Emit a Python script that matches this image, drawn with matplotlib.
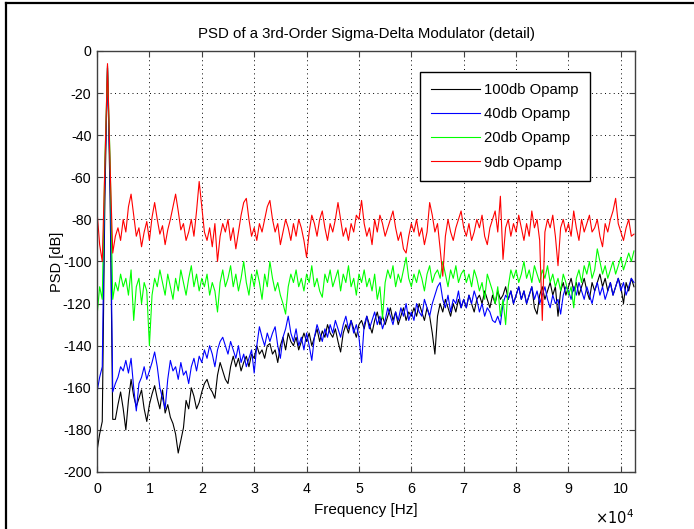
import numpy as np
import matplotlib
matplotlib.use("Agg")
import matplotlib.pyplot as plt
from matplotlib.lines import Line2D
from matplotlib.ticker import FixedLocator, FuncFormatter

# PSD estimates (dB) on a 500 Hz bin grid, one list per opamp gain
bin_hz = 500

psd_100db = [
    -190, -182, -176, -70, -7, -70, -175, -175, -168, -162,
    -170, -180, -166, -156, -164, -169, -165, -161, -170, -176,
    -168, -163, -159, -165, -170, -161, -172, -168, -174, -177,
    -182, -191, -185, -179, -166, -170, -160, -164, -170, -167,
    -162, -158, -156, -160, -162, -165, -154, -148, -152, -156,
    -158, -150, -145, -150, -146, -152, -148, -145, -150, -144,
    -146, -140, -144, -142, -146, -140, -139, -144, -142, -148,
    -140, -136, -142, -134, -138, -140, -136, -142, -138, -134,
    -138, -134, -140, -136, -132, -138, -133, -136, -130, -134,
    -136, -132, -138, -143, -134, -130, -134, -128, -132, -136,
    -130, -128, -132, -126, -130, -134, -128, -124, -130, -126,
    -130, -126, -122, -128, -124, -130, -126, -122, -128, -124,
    -126, -122, -126, -120, -124, -128, -122, -126, -134, -144,
    -126, -120, -124, -118, -122, -126, -120, -124, -118, -122,
    -118, -122, -116, -120, -124, -118, -116, -120, -114, -118,
    -122, -116, -120, -114, -118, -116, -112, -118, -114, -120,
    -116, -112, -118, -114, -120, -116, -112, -122, -125, -116,
    -112, -118, -114, -110, -116, -112, -126, -114, -110, -116,
    -112, -108, -114, -110, -116, -112, -108, -114, -118, -110,
    -114, -110, -106, -112, -108, -114, -110, -116, -112, -108,
    -112, -120, -110, -114, -108, -112,
]

psd_40db = [
    -162, -155, -150, -60, -8, -60, -162, -158, -155, -150,
    -152, -147, -153, -146, -160, -171, -158, -155, -150, -156,
    -152, -148, -143, -150, -160, -165, -170, -156, -147, -152,
    -150, -156, -148, -154, -152, -158, -150, -146, -152, -145,
    -148, -142, -146, -140, -144, -150, -142, -138, -136, -140,
    -144, -138, -142, -146, -140, -148, -144, -150, -146, -142,
    -153, -140, -131, -136, -140, -134, -138, -134, -131, -140,
    -146, -136, -132, -126, -134, -138, -132, -140, -136, -142,
    -134, -140, -147, -136, -130, -134, -138, -132, -136, -130,
    -134, -128, -132, -136, -130, -126, -132, -128, -134, -130,
    -136, -148, -130, -126, -132, -128, -124, -130, -126, -132,
    -128, -122, -126, -130, -124, -128, -122, -126, -120, -128,
    -124, -128, -120, -124, -126, -118, -122, -126, -120, -116,
    -112, -110, -118, -122, -116, -124, -118, -120, -114, -122,
    -118, -122, -116, -120, -114, -118, -124, -120, -126, -122,
    -124, -128, -129, -126, -130, -120, -116, -118, -114, -120,
    -116, -112, -118, -114, -120, -116, -112, -118, -114, -120,
    -116, -112, -118, -122, -116, -120, -118, -125, -116, -112,
    -114, -118, -112, -116, -110, -114, -118, -112, -116, -120,
    -114, -110, -116, -112, -118, -114, -110, -116, -112, -108,
    -114, -110, -116, -112, -108, -110,
]

psd_20db = [
    -126, -112, -118, -52, -8, -52, -118, -110, -114, -106,
    -112, -108, -116, -104, -128, -112, -108, -120, -110, -114,
    -140, -116, -108, -112, -104, -110, -116, -106, -112, -118,
    -108, -114, -104, -110, -116, -108, -102, -112, -106, -114,
    -108, -112, -106, -116, -110, -114, -124, -110, -104, -112,
    -108, -102, -112, -106, -114, -108, -100, -110, -116, -106,
    -112, -104, -110, -118, -106, -112, -100, -108, -114, -110,
    -116, -120, -125, -112, -106, -110, -104, -112, -108, -114,
    -106, -110, -102, -112, -108, -114, -117, -106, -110, -104,
    -112, -108, -104, -114, -106, -110, -102, -112, -108, -116,
    -106, -110, -104, -112, -108, -114, -106, -118, -112, -127,
    -110, -104, -108, -102, -112, -106, -110, -104, -98, -108,
    -112, -106, -110, -104, -108, -114, -106, -102, -110, -106,
    -104, -108, -100, -106, -112, -104, -108, -102, -110, -106,
    -104, -110, -106, -112, -104, -108, -114, -110, -118, -106,
    -110, -114, -120, -112, -126, -118, -130, -112, -104, -108,
    -104, -110, -106, -100, -108, -104, -110, -102, -106, -110,
    -104, -108, -102, -110, -106, -112, -108, -114, -106, -110,
    -116, -112, -122, -108, -104, -110, -102, -106, -100, -108,
    -104, -94, -100, -106, -102, -108, -104, -100, -106, -102,
    -98, -104, -100, -96, -100, -95,
]

psd_9db = [
    -76, -92, -100, -55, -6, -55, -96, -88, -84, -90,
    -80, -86, -74, -68, -78, -88, -84, -93, -86, -81,
    -90, -79, -72, -80, -87, -83, -92, -85, -80, -74,
    -68, -76, -85, -82, -90, -86, -80, -88, -76, -62,
    -74, -86, -90, -84, -93, -82, -100, -88, -82, -86,
    -80, -90, -84, -94, -86, -78, -72, -70, -80, -88,
    -84, -90, -82, -86, -80, -74, -71, -80, -86, -82,
    -92, -86, -80, -84, -90, -82, -88, -80, -84, -90,
    -98, -86, -78, -82, -88, -80, -76, -84, -90, -82,
    -86, -80, -72, -80, -88, -84, -90, -82, -86, -78,
    -80, -71, -82, -88, -84, -92, -80, -86, -78, -82,
    -88, -84, -80, -76, -84, -90, -86, -94, -96, -88,
    -82, -86, -80, -88, -84, -92, -86, -72, -78, -86,
    -82, -94, -107, -88, -80, -86, -90, -84, -80, -76,
    -84, -88, -82, -90, -86, -80, -84, -78, -88, -92,
    -84, -80, -76, -86, -69, -99, -84, -80, -88, -82,
    -86, -78, -84, -90, -82, -88, -76, -84, -80, -90,
    -128, -86, -80, -84, -78, -88, -102, -84, -80, -86,
    -82, -88, -76, -84, -90, -80, -86, -82, -78, -86,
    -84, -80, -88, -93, -82, -86, -80, -76, -70, -82,
    -86, -90, -84, -80, -88, -87,
]

series = [
    ("100db Opamp", psd_100db, "black"),
    ("40db Opamp", psd_40db, "#0000ff"),
    ("20db Opamp", psd_20db, "#00ff00"),
    ("9db Opamp", psd_9db, "#ff0000"),
]

x_ticks = [0, 1e4, 2e4, 3e4, 4e4, 5e4, 6e4, 7e4, 8e4, 9e4, 1e5]
y_ticks = [-200, -180, -160, -140, -120, -100, -80, -60, -40, -20, 0]

plt.rcParams["font.family"] = ["Liberation Sans", "DejaVu Sans"]

fig = plt.figure(figsize=(6.94, 5.29), dpi=100)
ax = fig.add_axes([0.1398, 0.1078, 0.7752, 0.7958])

for name, vals, color in series:
    freq = np.arange(len(vals)) * bin_hz
    ax.plot(freq, vals, color=color, linewidth=0.8, label=name)

ax.set_xlim(0, 102700)
ax.set_ylim(-200, 0)
ax.xaxis.set_major_locator(FixedLocator(x_ticks))
ax.yaxis.set_major_locator(FixedLocator(y_ticks))
ax.xaxis.set_major_formatter(FuncFormatter(lambda v, p: "%d" % round(v / 1e4)))
ax.yaxis.set_major_formatter(FuncFormatter(lambda v, p: "%d" % v))

ax.grid(True, color="black", linestyle=(0, (1, 3.5)), linewidth=0.7)
ax.tick_params(direction="in", top=True, right=True, length=4,
               labelsize=10.3, color="#404040")
ax.tick_params(axis="x", pad=7)
ax.tick_params(axis="y", pad=4)
for sp in ax.spines.values():
    sp.set_color("#404040")
    sp.set_linewidth(1.0)

ax.set_title("PSD of a 3rd-Order Sigma-Delta Modulator (detail)",
             fontsize=10.8, pad=9)
ax.set_xlabel("Frequency [Hz]", fontsize=11, labelpad=5)
ax.set_ylabel("PSD [dB]", fontsize=10.5, labelpad=-1)

fig.text(0.858, 0.004, r"$\times 10^{4}$", fontsize=10.5, ha="left", va="bottom")

leg = ax.legend(loc="upper right", bbox_to_anchor=(0.916, 0.950),
                fancybox=False, framealpha=1, edgecolor="black",
                fontsize=10.7, handlelength=3.3, handletextpad=0.3,
                borderpad=0.75, labelspacing=0.68, borderaxespad=0)
leg.get_frame().set_linewidth(1.0)

# outer window border along the top and left
fig.add_artist(Line2D([0.008, 1.0], [0.994, 0.994], color="black",
                      linewidth=1.6, transform=fig.transFigure))
fig.add_artist(Line2D([0.009, 0.009], [0.0, 0.994], color="black",
                      linewidth=1.6, transform=fig.transFigure))

fig.savefig("out.png", dpi=100)
